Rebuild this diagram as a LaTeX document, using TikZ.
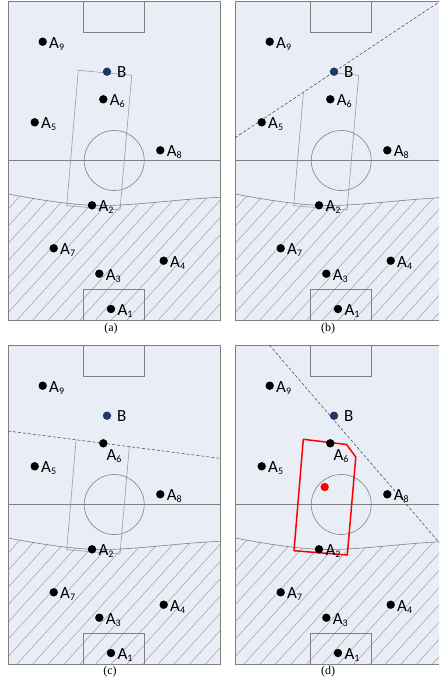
\documentclass[tikz,border=0pt]{standalone}
\usepackage{fontspec}
\setmainfont{Carlito}
\newfontfamily\capfont{Liberation Serif}
\usetikzlibrary{positioning}
\definecolor{pitchfill}{RGB}{233,237,246}
\definecolor{pitchline}{RGB}{128,128,128}
\definecolor{zoneline}{RGB}{140,157,187}
\definecolor{navy}{RGB}{31,56,100}
\newcommand\Sub[1]{\raisebox{-2pt}{\fontsize{10}{10}\selectfont#1}}
\newcommand\Edge{(8,194) .. controls (45,201) and (80,206) .. (105,205.5) .. controls (140,205) and (180,199) .. (220.5,197.3)}
\newcommand\Zone{(78.3,70.3) -- (131.7,75.3) -- (120,210) -- (66.7,205.7) -- cycle}
\newcommand\Pitch{%
    \fill[pitchfill] (8,1) rectangle (220.5,320);
    \begin{scope}
        \clip \Edge -- (220.5,320) -- (8,320) -- cycle;
        \foreach \k in {-8,...,13}
            \draw[hatchline] (8+15.7*\k,330) -- ++(150,-165);
    \end{scope}
    \draw[pitch] \Edge;
    \draw[pitch] (8,160.5) -- (220.5,160.5);
    \draw[pitch] (114.25,160.5) circle[radius=30pt];
    \draw[pitch] (83.3,1) rectangle (144.3,32);
    \draw[pitch] (83.3,289.3) rectangle (144.3,320);
    \draw[pitch] (8,1) rectangle (220.5,320);
}
\newcommand\Team[2]{%
    \node[player, fill=navy] (#1B) at (107,71.7) {};
    \node[lbl, anchor=west, xshift=9pt] (#1lblB) at (#1B) {B};
    \foreach \n/\x/\y/\s in {9/42.7/41.7/lblr, 6/103.3/99.3/#2, 5/34.7/122.3/lblr,
        8/160.3/150.3/lblr, 2/92/205.3/lblr, 7/53.7/248.3/lblr,
        4/163.7/260.7/lblr, 3/99.3/273.7/lblr, 1/111/309/lblr} {
        \node[player] (#1\n) at (\x,\y) {};
        \node[\s] (#1lbl\n) at (#1\n) {A\Sub{\n}};
    }
}

\begin{document}
\begin{tikzpicture}[x=1pt, y=-1pt,
    pitch/.style={draw=pitchline, line width=0.6pt},
    hatchline/.style={draw=pitchline!85, line width=0.4pt},
    zonebox/.style={draw=zoneline, line width=0.6pt},
    redbox/.style={draw=red, line width=1.5pt, line join=round},
    divider/.style={draw=darkgray, dash pattern=on 3pt off 2pt, line width=0.5pt},
    player/.style={circle, fill=black, inner sep=0pt, minimum size=8.4pt},
    lbl/.style={font=\fontsize{17}{20}\selectfont, inner sep=1pt},
    lblr/.style={lbl, anchor=west, xshift=5.3pt, yshift=-2pt},
    lblbr/.style={lbl, anchor=north west, xshift=2pt, yshift=-5pt},
    captxt/.style={font=\capfont\fontsize{12}{14}\selectfont}]
\clip (0,0) rectangle (439,682);
% (a)
\begin{scope}
    \Pitch
    \draw[zonebox] \Zone;
    \Team{a}{lblr}
    \node[captxt] (capa) at (111,329) {(a)};
\end{scope}
% (b)
\begin{scope}[xshift=227pt]
    \Pitch
    \begin{scope}
        \clip (8,137.7) -- (220.5,-3.6) -- (220.5,330) -- (8,330) -- cycle;
        \draw[zonebox] \Zone;
    \end{scope}
    \draw[divider] (8,137.7) -- (213.6,1);
    \Team{b}{lblr}
    \node[captxt] (capb) at (101,329) {(b)};
\end{scope}
% (c)
\begin{scope}[yshift=-344pt]
    \Pitch
    \begin{scope}
        \clip (8,87) -- (220.5,114.4) -- (220.5,330) -- (8,330) -- cycle;
        \draw[zonebox] \Zone;
    \end{scope}
    \draw[divider] (8,87) -- (220.5,114.4);
    \Team{c}{lblbr}
    \node[captxt] (capc) at (110,328) {(c)};
\end{scope}
% (d)
\begin{scope}[xshift=227pt, yshift=-344pt]
    \Pitch
    \draw[divider] (42.3,1) -- (220.5,208.2);
    \draw[redbox] (76.3,95.3) -- (119.5,100.5) -- (128.8,113) -- (120.3,211) -- (67,206.7) -- cycle;
    \node[player, fill=red] (dR) at (97.7,143) {};
    \Team{d}{lblbr}
    \node[captxt] (capd) at (101,328) {(d)};
\end{scope}
\end{tikzpicture}
\end{document}
